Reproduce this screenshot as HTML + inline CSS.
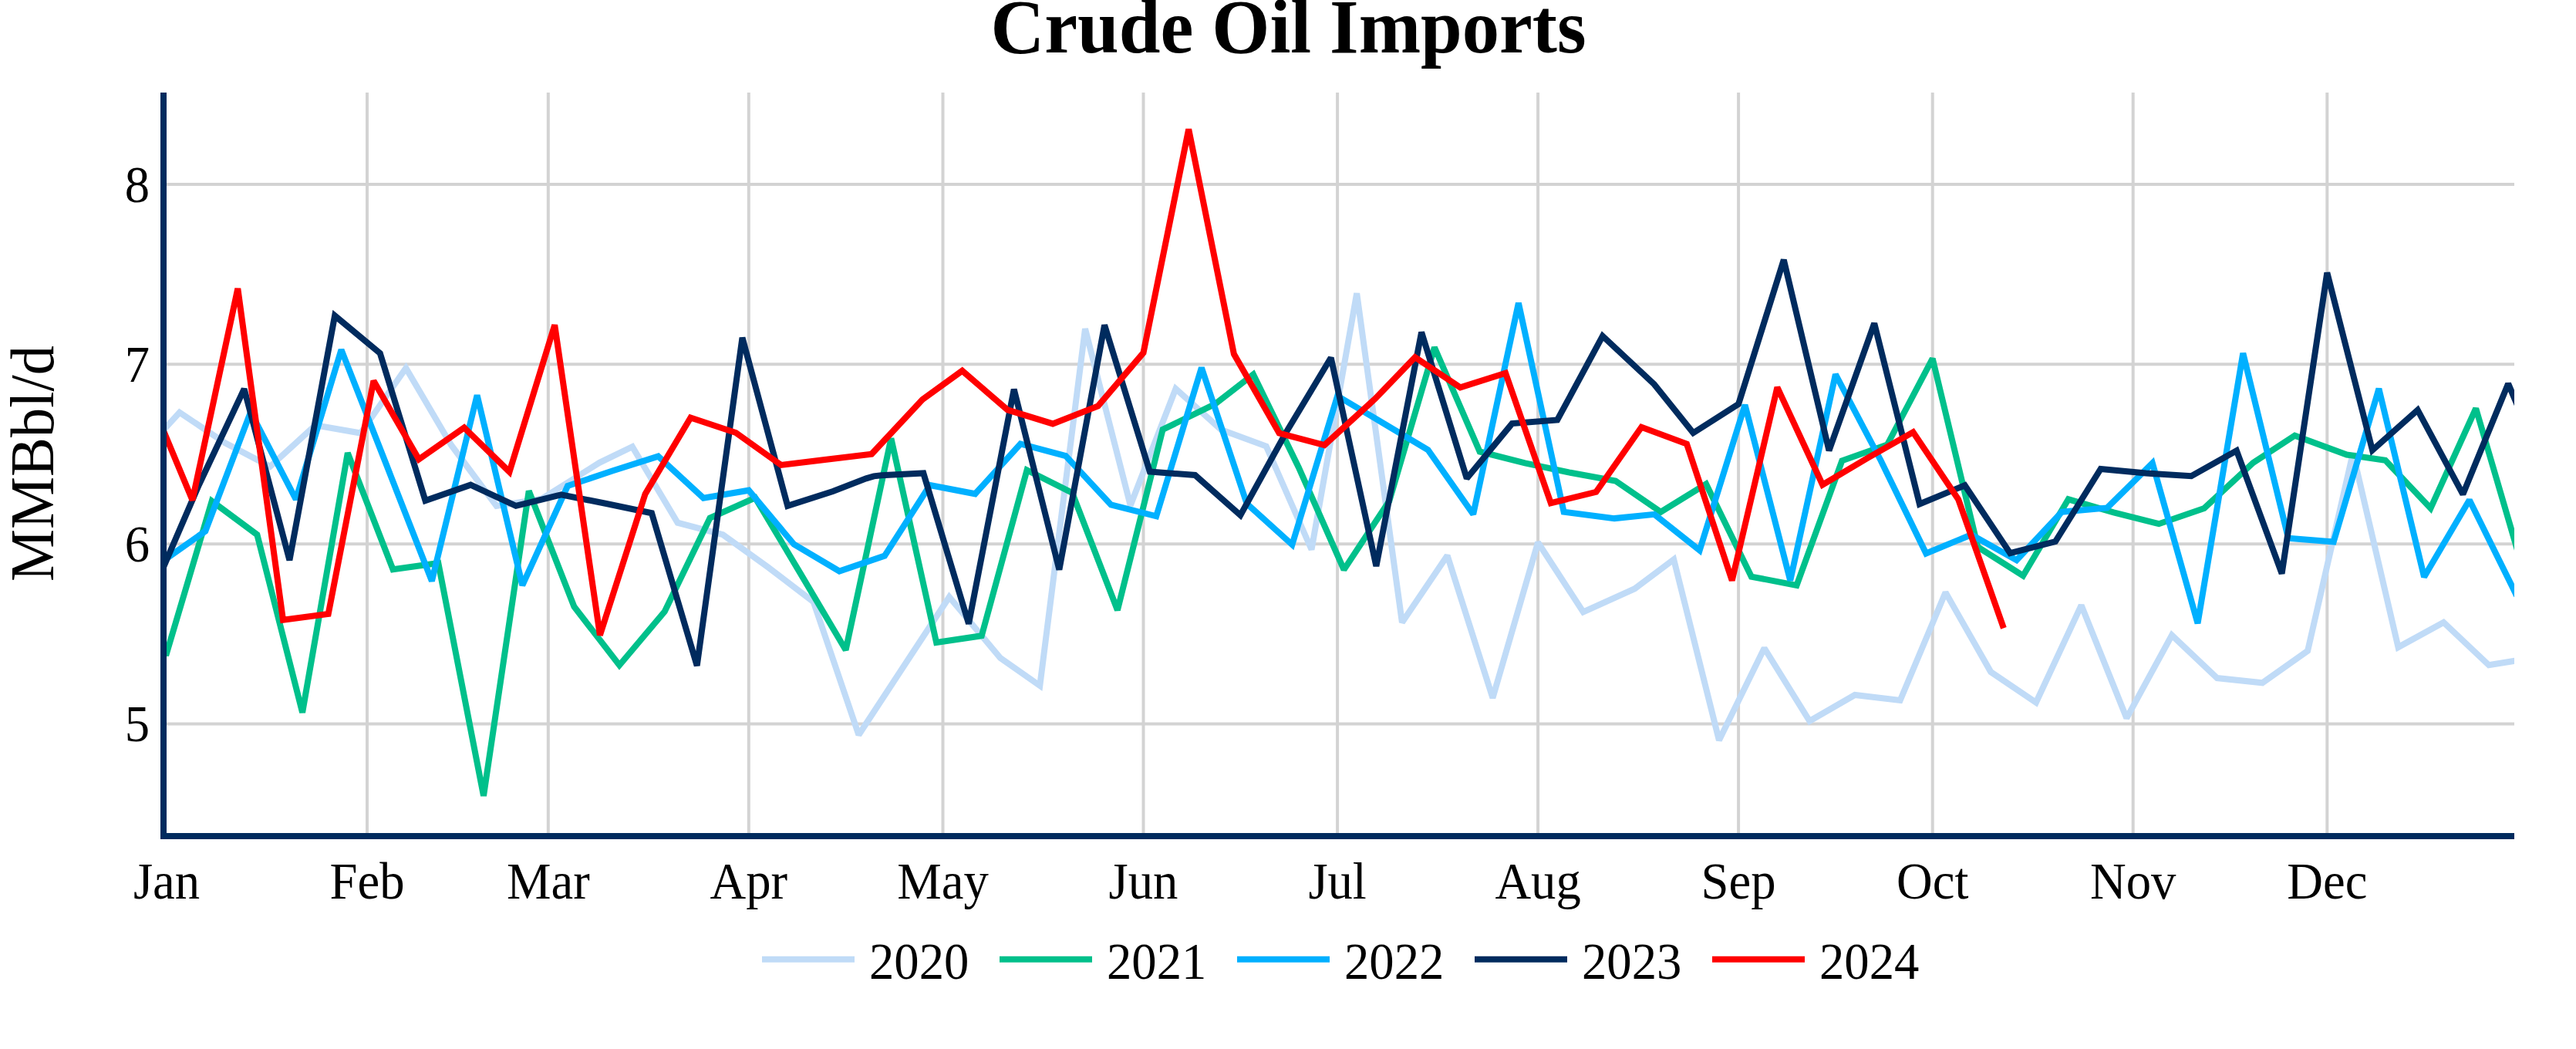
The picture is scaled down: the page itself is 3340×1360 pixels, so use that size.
<!DOCTYPE html>
<html lang="en"><head><meta charset="utf-8"><title>Crude Oil Imports</title>
<style>html,body{margin:0;padding:0;background:#fff}svg{display:block}text{font-family:"Liberation Serif",serif;fill:#000}</style></head><body>
<svg width="3340" height="1360" viewBox="0 0 3340 1360">
<rect width="3340" height="1360" fill="#fff"/>
<defs><clipPath id="c"><rect x="216" y="120" width="3044" height="960"/></clipPath></defs>
<path d="M476.0,120V1080M710.8,120V1080M970.8,120V1080M1222.5,120V1080M1482.5,120V1080M1734.1,120V1080M1994.1,120V1080M2254.1,120V1080M2505.7,120V1080M2765.7,120V1080M3017.3,120V1080M216,938.5H3260M216,705.3H3260M216,472.2H3260M216,239.0H3260" stroke="#D3D3D3" stroke-width="4" fill="none"/>
<g clip-path="url(#c)" fill="none" stroke-width="8" stroke-linejoin="miter" stroke-miterlimit="2">
<polyline points="174.1,599.0 232.8,534.7 291.5,574.0 350.2,604.9 408.9,551.3 467.6,561.5 526.3,477.1 585.0,577.0 643.7,655.9 702.5,646.6 777.3,599.8 819.9,579.1 878.6,677.7 937.3,693.2 996.0,735.5 1054.7,780.3 1113.4,952.8 1172.1,863.2 1230.8,774.0 1297.0,853.0 1348.3,889.0 1407.0,426.3 1465.7,655.3 1524.4,504.0 1583.1,556.9 1641.8,578.6 1700.5,712.5 1759.2,380.3 1817.9,807.0 1876.6,720.3 1935.4,904.8 1994.1,703.2 2052.8,793.5 2119.6,763.2 2170.2,725.4 2228.9,959.7 2287.6,840.3 2346.3,934.8 2405.0,901.0 2463.7,908.0 2522.5,768.0 2581.2,871.1 2639.9,910.8 2698.6,784.8 2757.3,931.1 2816.0,823.5 2874.7,879.1 2933.4,885.3 2992.1,843.8 3050.8,587.5 3109.5,839.1 3168.3,806.9 3227.0,862.3 3285.7,852.6" stroke="#C0DBF7"/>
<polyline points="157.3,847.0 216.0,847.0 274.7,649.7 333.4,693.2 392.1,923.7 450.8,587.3 509.5,738.3 568.3,730.0 627.0,1031.8 685.7,636.5 744.4,786.5 803.1,862.5 861.8,792.7 920.5,671.5 979.2,645.4 1037.9,743.6 1096.6,842.7 1155.4,568.4 1214.1,833.0 1272.8,824.3 1331.5,609.5 1390.2,639.0 1448.9,791.0 1507.6,556.9 1575.4,523.9 1625.0,485.4 1683.7,605.7 1742.5,738.6 1801.2,649.7 1859.9,450.3 1918.6,585.5 1977.3,600.4 2036.0,612.8 2094.7,623.5 2153.4,663.7 2212.1,627.5 2270.8,747.6 2329.5,758.9 2388.3,597.3 2447.0,576.6 2505.7,464.9 2564.4,709.2 2623.1,746.5 2681.8,647.3 2740.5,664.3 2799.2,679.2 2857.9,659.0 2921.5,599.8 2975.4,564.7 3042.8,589.5 3092.8,596.7 3151.5,659.0 3210.2,529.5 3268.9,730.0" stroke="#00C08B"/>
<polyline points="207.6,729.9 266.3,688.6 325.0,534.2 383.7,647.5 442.5,453.4 501.2,603.0 559.9,753.2 618.6,512.4 677.3,758.8 736.0,630.0 794.7,610.3 853.4,591.6 912.1,645.7 970.8,635.7 1029.5,705.7 1088.3,740.5 1147.0,720.6 1205.7,629.0 1264.4,640.3 1323.1,575.5 1381.8,591.1 1440.5,654.5 1499.2,669.3 1557.9,476.7 1616.6,653.0 1675.4,706.1 1734.1,513.4 1792.8,548.2 1851.5,583.3 1910.2,666.7 1968.9,392.8 2027.6,663.7 2093.2,672.1 2145.0,666.8 2203.7,713.4 2262.5,524.9 2321.2,752.6 2379.9,485.4 2438.6,597.0 2497.3,717.5 2556.0,693.2 2614.7,726.3 2673.4,663.7 2732.1,658.4 2790.8,600.4 2849.5,808.1 2908.3,458.0 2967.0,697.8 3025.7,702.5 3084.4,504.0 3143.1,748.0 3201.8,648.2 3260.5,767.0 3319.2,700.0" stroke="#00B0FF"/>
<polyline points="199.2,764.8 257.9,628.7 316.6,504.3 375.4,726.2 434.1,409.3 492.8,458.0 551.5,649.0 610.2,628.6 668.9,655.9 727.6,641.3 786.3,653.0 845.0,665.3 903.7,863.0 962.5,437.8 1021.2,655.9 1079.9,637.0 1123.0,620.3 1133.0,617.4 1143.0,616.2 1197.3,613.5 1256.0,808.7 1314.7,504.7 1373.4,738.6 1432.1,421.4 1490.8,611.5 1549.5,616.0 1608.3,667.9 1667.0,561.5 1725.7,463.8 1784.4,734.0 1843.1,430.7 1901.8,620.2 1960.5,549.1 2019.2,544.5 2077.9,435.7 2144.8,498.2 2195.4,561.3 2254.1,524.0 2312.8,336.8 2371.5,584.2 2430.2,419.2 2488.9,653.5 2547.6,629.2 2606.3,717.1 2665.0,702.0 2723.7,608.0 2782.5,613.5 2841.2,617.3 2899.9,584.2 2958.6,743.7 3017.3,353.6 3076.0,583.7 3134.7,531.6 3193.4,640.8 3252.1,497.4 3310.8,636.0" stroke="#002B5E"/>
<polyline points="190.8,507.6 249.5,648.5 308.3,374.1 367.0,803.8 425.7,796.0 484.4,493.8 543.1,595.5 601.8,554.4 660.5,611.7 719.2,421.4 777.9,823.5 836.6,640.4 895.4,541.5 954.1,561.0 1012.8,602.9 1071.5,595.7 1130.2,588.6 1196.0,518.0 1247.6,480.7 1306.3,531.4 1365.0,549.4 1423.7,526.4 1482.5,457.4 1541.2,167.5 1599.9,459.0 1658.6,561.5 1717.3,577.0 1783.0,517.0 1834.7,463.2 1893.4,502.3 1952.1,483.8 2010.8,652.2 2069.5,637.8 2128.3,553.8 2187.0,575.5 2245.7,752.6 2304.4,502.2 2363.1,628.5 2421.8,593.6 2480.5,560.3 2539.2,647.6 2597.9,814.3" stroke="#FF0000"/>
</g>
<path d="M212,120V1088M208,1084H3260" stroke="#002B5E" stroke-width="8" fill="none"/>
<text transform="translate(1670.5,68) scale(0.965,1)" text-anchor="middle" font-size="100" font-weight="bold">Crude Oil Imports</text>
<text transform="translate(216.0,1165) scale(0.965,1)" text-anchor="middle" font-size="67">Jan</text>
<text transform="translate(476.0,1165) scale(0.965,1)" text-anchor="middle" font-size="67">Feb</text>
<text transform="translate(710.8,1165) scale(0.965,1)" text-anchor="middle" font-size="67">Mar</text>
<text transform="translate(970.8,1165) scale(0.965,1)" text-anchor="middle" font-size="67">Apr</text>
<text transform="translate(1222.5,1165) scale(0.965,1)" text-anchor="middle" font-size="67">May</text>
<text transform="translate(1482.5,1165) scale(0.965,1)" text-anchor="middle" font-size="67">Jun</text>
<text transform="translate(1734.1,1165) scale(0.965,1)" text-anchor="middle" font-size="67">Jul</text>
<text transform="translate(1994.1,1165) scale(0.965,1)" text-anchor="middle" font-size="67">Aug</text>
<text transform="translate(2254.1,1165) scale(0.965,1)" text-anchor="middle" font-size="67">Sep</text>
<text transform="translate(2505.7,1165) scale(0.965,1)" text-anchor="middle" font-size="67">Oct</text>
<text transform="translate(2765.7,1165) scale(0.965,1)" text-anchor="middle" font-size="67">Nov</text>
<text transform="translate(3017.3,1165) scale(0.965,1)" text-anchor="middle" font-size="67">Dec</text>
<text transform="translate(194,961.0) scale(0.965,1)" text-anchor="end" font-size="67">5</text>
<text transform="translate(194,727.8) scale(0.965,1)" text-anchor="end" font-size="67">6</text>
<text transform="translate(194,494.7) scale(0.965,1)" text-anchor="end" font-size="67">7</text>
<text transform="translate(194,261.5) scale(0.965,1)" text-anchor="end" font-size="67">8</text>
<text transform="translate(69,601) rotate(-90) scale(0.956,1)" text-anchor="middle" font-size="80">MMBbl/d</text>
<path d="M988,1243.8H1108" stroke="#C0DBF7" stroke-width="8"/>
<text transform="translate(1127,1269) scale(0.965,1)" font-size="67">2020</text>
<path d="M1296,1243.8H1416" stroke="#00C08B" stroke-width="8"/>
<text transform="translate(1435,1269) scale(0.965,1)" font-size="67">2021</text>
<path d="M1604,1243.8H1724" stroke="#00B0FF" stroke-width="8"/>
<text transform="translate(1743,1269) scale(0.965,1)" font-size="67">2022</text>
<path d="M1912,1243.8H2032" stroke="#002B5E" stroke-width="8"/>
<text transform="translate(2051,1269) scale(0.965,1)" font-size="67">2023</text>
<path d="M2220,1243.8H2340" stroke="#FF0000" stroke-width="8"/>
<text transform="translate(2359,1269) scale(0.965,1)" font-size="67">2024</text>
</svg></body></html>
